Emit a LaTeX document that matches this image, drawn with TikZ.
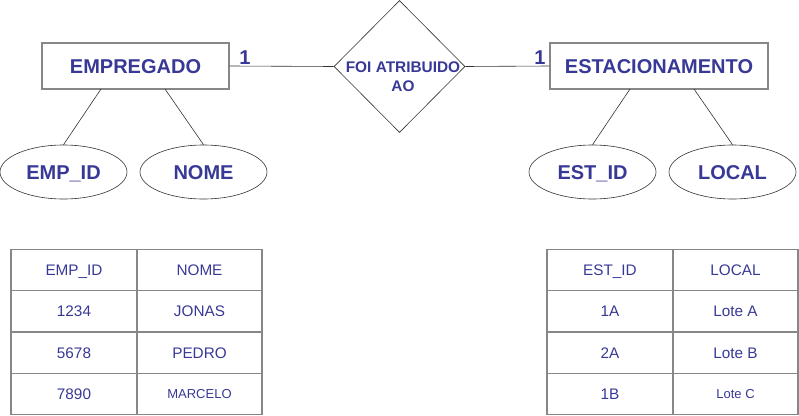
\documentclass[tikz,border=0pt]{standalone}
\usepackage{fontspec}
\setmainfont{Liberation Sans}
\usetikzlibrary{shapes.geometric}
\definecolor{txt}{RGB}{56,56,150}
\definecolor{frame}{RGB}{135,135,135}
\definecolor{conn}{RGB}{50,50,50}
\tikzset{
  entity/.style={draw=frame, line width=1.3pt, fill=white, minimum width=#1, minimum height=46pt, inner sep=0pt,
    text=txt, font=\fontsize{20}{22}\selectfont\bfseries, text height=14.3pt, text depth=0pt},
  attr/.style={ellipse, draw=conn, line width=0.6pt, minimum width=127pt, minimum height=54pt, inner sep=0pt,
    text=txt, font=\fontsize{20}{22}\selectfont\bfseries, text height=14.3pt, text depth=0pt},
  rel/.style={diamond, draw=conn, line width=0.6pt, minimum width=131pt, minimum height=132pt, inner sep=0pt},
  rellabel/.style={text=txt, font=\fontsize{15.4}{19.5}\selectfont\bfseries, align=center, inner sep=0pt},
  card/.style={text=txt, font=\fontsize{20}{22}\selectfont\bfseries, inner sep=0pt, text height=14.3pt, text depth=0pt},
  conn/.style={draw=conn, line width=0.6pt},
  cell/.style={draw=frame, line width=1.1pt, minimum width=#1, minimum height=41.25pt, inner sep=0pt,
    text=txt, font=\fontsize{15.3}{17}\selectfont, text height=11pt, text depth=0pt},
  smallcell/.style={cell=#1, font=\fontsize{13}{15}\selectfont, text height=9.3pt}
}
\begin{document}
\begin{tikzpicture}[x=1pt,y=-1pt]
\useasboundingbox (0,0) rectangle (799,415);
% relationship
\node[rel] (r) at (399.5,66.5) {};
\node[rellabel] (rl) at (403,76.5) {FOI ATRIBUIDO\\AO};
% entities
\node[entity=187pt] (emp) at (135.5,66) {EMPREGADO};
\node[entity=218pt] (est) at (659,66) {ESTACIONAMENTO};
\draw[conn] (emp.east) -- (r.west);
\draw[conn] (r.east) -- (est.west);
\node[card] (c1) at (245,57) {1};
\node[card] (c2) at (540,57) {1};
% attributes
\node[attr] (a1) at (63.5,172) {EMP\_ID};
\node[attr] (a2) at (203.5,172) {NOME};
\node[attr] (a3) at (592.5,172) {EST\_ID};
\node[attr] (a4) at (732.5,172) {LOCAL};
\coordinate (e1) at (101,89);
\coordinate (e2) at (165,89);
\coordinate (e3) at (630,89);
\coordinate (e4) at (694,89);
\draw[conn] (e1) -- (a1.north);
\draw[conn] (e2) -- (a2.north);
\draw[conn] (e3) -- (a3.north);
\draw[conn] (e4) -- (a4.north);
% left table
\node[cell=126pt] (t11) at (74,270.1) {EMP\_ID};
\node[cell=125pt] (t12) at (199.5,270.1) {NOME};
\node[cell=126pt] (t21) at (74,311.4) {1234};
\node[cell=125pt] (t22) at (199.5,311.4) {JONAS};
\node[cell=126pt] (t31) at (74,352.6) {5678};
\node[cell=125pt] (t32) at (199.5,352.6) {PEDRO};
\node[cell=126pt] (t41) at (74,393.9) {7890};
\node[smallcell=125pt] (t42) at (199.5,393.9) {MARCELO};
% right table
\node[cell=126pt] (u11) at (610,270.1) {EST\_ID};
\node[cell=125pt] (u12) at (735.5,270.1) {LOCAL};
\node[cell=126pt] (u21) at (610,311.4) {1A};
\node[cell=125pt] (u22) at (735.5,311.4) {Lote A};
\node[cell=126pt] (u31) at (610,352.6) {2A};
\node[cell=125pt] (u32) at (735.5,352.6) {Lote B};
\node[cell=126pt] (u41) at (610,393.9) {1B};
\node[smallcell=125pt] (u42) at (735.5,393.9) {Lote C};
\end{tikzpicture}
\end{document}
